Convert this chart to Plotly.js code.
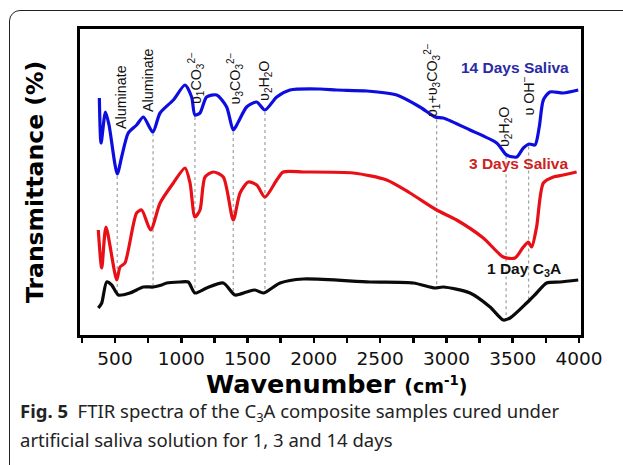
<!DOCTYPE html>
<html>
<head>
<meta charset="utf-8">
<script src="https://cdn.plot.ly/plotly-3.0.1.min.js"></script>
<style>
  html, body { margin:0; padding:0; background:#fff; overflow:hidden; }
  #wrap { position:relative; width:623px; height:465px; overflow:hidden; }
  #chart { position:absolute; left:0; top:0; width:623px; height:465px; }
  #frame { position:absolute; left:9px; top:10px; width:700px; height:520px;
           border:1.5px solid #222; border-radius:11px; pointer-events:none; }
</style>
</head>
<body>
<div id="wrap">
  <div id="chart"></div>
  <div id="frame"></div>
</div>
<script>
// ---- Data (transmittance in arbitrary units) ----
const wn14 = [382, 395, 428, 455, 517, 550, 600, 663, 714, 785, 840, 940, 1028, 1078, 1103, 1141, 1191, 1267, 1342, 1392, 1430, 1493, 1569, 1631, 1720, 1820, 2046, 2172, 2400, 2625, 2800, 2914, 2976, 3178, 3379, 3454, 3530, 3580, 3625, 3668, 3700, 3731, 3781, 3881, 3994];
const t14  = [237, 192, 223, 210, 161, 178, 202, 210, 218, 203, 222, 235, 250, 238, 220, 222, 238, 240, 228, 205, 213, 228, 233, 225, 238, 245, 246, 245, 244, 240, 228, 218, 217, 205, 192, 180, 178, 187, 191, 190, 208, 235, 243, 242, 245];

const wn3 = [374, 400, 432, 513, 538, 575, 663, 701, 769, 840, 940, 1028, 1066, 1103, 1141, 1179, 1242, 1317, 1392, 1443, 1506, 1569, 1631, 1720, 1769, 1920, 2298, 2549, 2725, 2926, 3077, 3278, 3429, 3517, 3580, 3618, 3643, 3680, 3731, 3806, 3881, 3982];
const t3  = [105, 67, 108, 55, 68, 72, 122, 125, 105, 132, 152, 167, 152, 118, 125, 158, 163, 158, 115, 142, 153, 150, 138, 155, 163, 163, 162, 155, 142, 125, 115, 97, 78, 77, 88, 93, 88, 108, 152, 158, 160, 163];

const wn1 = [374, 400, 437, 475, 525, 613, 714, 789, 852, 890, 990, 1053, 1103, 1191, 1317, 1405, 1493, 1556, 1619, 1745, 1920, 2423, 2750, 2914, 2976, 3178, 3329, 3429, 3480, 3605, 3680, 3756, 3857, 3994];
const t1  = [27, 32, 53, 50, 40, 42, 48, 48, 50, 52, 53, 53, 42, 47, 52, 40, 43, 45, 42, 52, 56, 53, 52, 47, 48, 42, 28, 15, 17, 32, 42, 52, 53, 55];

const seriesNames = ["14 Days Saliva", "3 Days Saliva", "1 Day C<sub>3</sub>A"];
const peakWn = [517, 787, 1103, 1392, 1631, 2926, 3450, 3620];
const peakLabels = ["Aluminate", "Aluminate", "υ<sub>1</sub>CO<sub>3</sub><sup>2−</sup>", "υ<sub>3</sub>CO<sub>3</sub><sup>2−</sup>",
                    "υ<sub>2</sub>H<sub>2</sub>O", "υ<sub>1</sub>+υ<sub>3</sub>CO<sub>3</sub><sup>2−</sup>", "υ<sub>2</sub>H<sub>2</sub>O", "υ OH<sup>−</sup>"];
const tickPos = [250, 500, 750, 1000, 1250, 1500, 1750, 2000, 2250, 2500, 2750, 3000, 3250, 3500, 3750, 4000];
const tickText = ["", "500", "", "1000", "", "1500", "", "2000", "", "2500", "", "3000", "", "3500", "", "4000"];

// ---- helpers ----
function interp(xs, ys, x) {
  if (x <= xs[0]) return ys[0];
  for (let i = 1; i < xs.length; i++) {
    if (x <= xs[i]) { const f = (x - xs[i-1]) / (xs[i] - xs[i-1]); return ys[i-1] + f * (ys[i] - ys[i-1]); }
  }
  return ys[ys.length - 1];
}

const lineStyle = (c) => ({ color: c, width: 3.2, shape: 'spline', smoothing: 0.7 });
const traces = [
  { x: wn14, y: t14, mode: 'lines', line: lineStyle('#0d0de0'), name: seriesNames[0], hoverinfo: 'skip' },
  { x: wn3,  y: t3,  mode: 'lines', line: lineStyle('#e80f16'), name: seriesNames[1], hoverinfo: 'skip' },
  { x: wn1,  y: t1,  mode: 'lines', line: lineStyle('#0a0a0a'), name: seriesNames[2], hoverinfo: 'skip' }
];

// dotted guide lines from the 14-day curve down to the 1-day curve
const shapes = peakWn.map(w => ({
  type: 'line', xref: 'x', yref: 'y', layer: 'below',
  x0: w, x1: w, y0: interp(wn14, t14, w) - 2, y1: interp(wn1, t1, w),
  line: { color: '#a0a0a0', width: 1.2, dash: 'dot' }
}));

// peak label placements (text positions)
const labelPos = [
  [545, 238], [749, 255], [1111, 257], [1408, 257], [1631, 254], [2891, 255], [3442, 208], [3612, 239]
];
const annFont = { family: 'Liberation Sans, Arial, sans-serif', size: 14.3, color: '#111' };
const annotations = peakLabels.map((t, i) => ({
  x: labelPos[i][0], y: labelPos[i][1], xref: 'x', yref: 'y', text: t, textangle: -90,
  showarrow: false, xanchor: 'center', yanchor: 'middle', font: annFont
}));

const arialB = (size, color) => ({ family: 'Liberation Sans, Arial, sans-serif', size: size, color: color });
const dejaB = (size, color) => ({ family: 'DejaVu Sans, sans-serif', size: size, color: color });
annotations.push(
  { x: 3517, y: 268, xref: 'x', yref: 'y', xanchor: 'center', yanchor: 'middle', text: '<b>' + seriesNames[0] + '</b>', showarrow: false, font: arialB(15.5, '#2a2aa6') },
  { x: 3547, y: 172, xref: 'x', yref: 'y', xanchor: 'center', yanchor: 'middle', text: '<b>' + seriesNames[1] + '</b>', showarrow: false, font: arialB(15.5, '#cc2222') },
  { x: 3585, y: 66,  xref: 'x', yref: 'y', xanchor: 'center', yanchor: 'middle', text: '<b>' + seriesNames[2] + '</b>', showarrow: false, font: arialB(15.5, '#111') },
  { x: 0.511, y: -0.16, xref: 'paper', yref: 'paper', xanchor: 'center', yanchor: 'middle', showarrow: false,
    text: '<b>Wavenumber <span style="font-size:19px">(cm<sup>-1</sup>)</span></b>',
    font: dejaB(25.5, '#000') },
  { x: -0.0898, y: 0.5, xref: 'paper', yref: 'paper', xanchor: 'center', yanchor: 'middle', showarrow: false, textangle: -90,
    text: '<b>Transmittance (%)</b>', font: dejaB(23.5, '#000') },
  { x: -0.1238, y: -0.2516, xref: 'paper', yref: 'paper', showarrow: false, xanchor: 'left', yanchor: 'middle',
    text: '<b>Fig. 5</b>  FTIR spectra of the C<sub>3</sub>A composite samples cured under',
    font: { family: 'Noto Sans, sans-serif', size: 18.5, color: '#222' } },
  { x: -0.1238, y: -0.343, xref: 'paper', yref: 'paper', showarrow: false, xanchor: 'left', yanchor: 'middle',
    text: 'artificial saliva solution for 1, 3 and 14 days',
    font: { family: 'Noto Sans, sans-serif', size: 18.5, color: '#222' } }
);

const layout = {
  width: 623, height: 465,
  margin: { l: 80, r: 42, t: 29, b: 130 },
  showlegend: false,
  xaxis: {
    range: [236, 4015], tickvals: tickPos, ticktext: tickText,
    ticks: 'outside', ticklen: 5, tickwidth: 2.5, tickcolor: '#000',
    showline: true, mirror: true, linewidth: 3, linecolor: '#000',
    showgrid: false, zeroline: false,
    tickfont: { family: 'DejaVu Sans, sans-serif', size: 18.5, color: '#111' }
  },
  yaxis: {
    range: [0, 306], showticklabels: false, ticks: '',
    showline: true, mirror: true, linewidth: 3, linecolor: '#000',
    showgrid: false, zeroline: false
  },
  shapes: shapes,
  annotations: annotations
};

Plotly.newPlot('chart', traces, layout, { staticPlot: true, displayModeBar: false });
</script>
</body>
</html>
